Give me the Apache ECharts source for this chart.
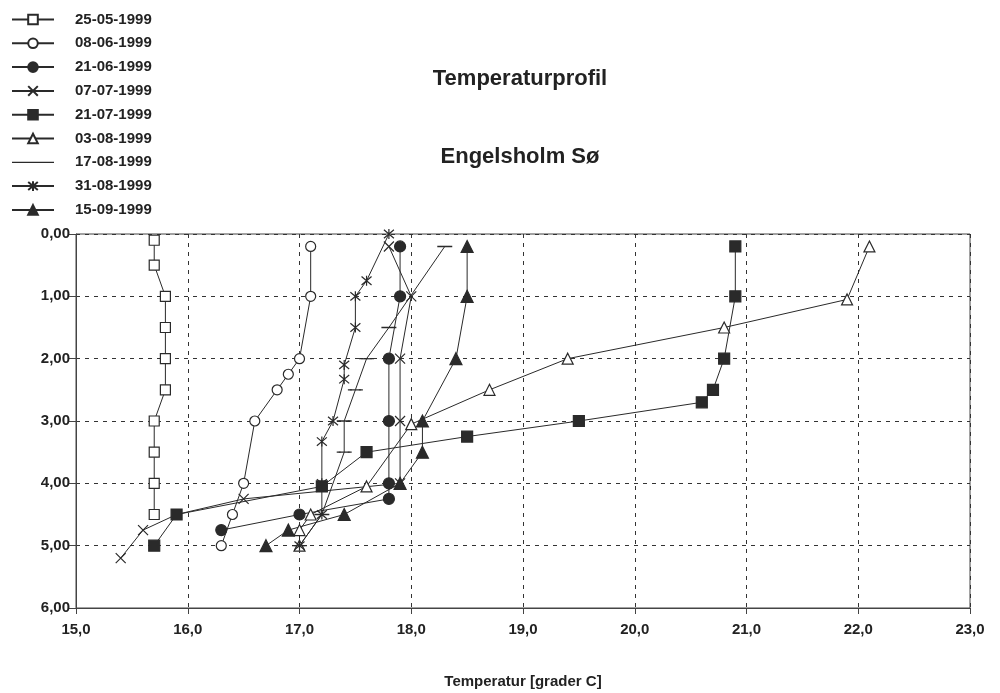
<!DOCTYPE html>
<html><head><meta charset="utf-8">
<script src="https://cdn.jsdelivr.net/npm/echarts@6/dist/echarts.min.js"></script>
<style>html,body{margin:0;padding:0;background:#fff}#c{width:1000px;height:693px}</style>
</head><body><div id="c"></div>
<script>
// [temperature °C, depth m]
const s250599 = [[15.7,0.1],[15.7,0.5],[15.8,1.0],[15.8,1.5],[15.8,2.0],[15.8,2.5],[15.7,3.0],[15.7,3.5],[15.7,4.0],[15.7,4.5]];
const s080699 = [[17.1,0.2],[17.1,1.0],[17.0,2.0],[16.9,2.25],[16.8,2.5],[16.6,3.0],[16.5,4.0],[16.4,4.5],[16.3,5.0]];
const s210699 = [[17.9,0.2],[17.9,1.0],[17.8,2.0],[17.8,3.0],[17.8,4.0],[17.8,4.25],[17.0,4.5],[16.3,4.75]];
const s070799 = [[17.8,0.2],[18.0,1.0],[17.9,2.0],[17.9,3.0],[17.9,4.0],[16.5,4.25],[15.9,4.5],[15.6,4.75],[15.4,5.2]];
const s210799 = [[20.9,0.2],[20.9,1.0],[20.8,2.0],[20.7,2.5],[20.6,2.7],[19.5,3.0],[18.5,3.25],[17.6,3.5],[17.2,4.05],[15.9,4.5],[15.7,5.0]];
const s030899 = [[22.1,0.2],[21.9,1.05],[20.8,1.5],[19.4,2.0],[18.7,2.5],[18.0,3.05],[17.6,4.05],[17.1,4.5],[17.0,4.75],[17.0,5.0]];
const s170899 = [[18.3,0.2],[17.8,1.5],[17.6,2.0],[17.5,2.5],[17.4,3.0],[17.4,3.5],[17.2,4.5],[17.0,5.0]];
const s310899 = [[17.8,0.0],[17.6,0.75],[17.5,1.0],[17.5,1.5],[17.4,2.1],[17.4,2.33],[17.3,3.0],[17.2,3.33],[17.2,4.0],[17.2,4.5],[17.0,5.0]];
const s150999 = [[18.5,0.2],[18.5,1.0],[18.4,2.0],[18.1,3.0],[18.1,3.5],[17.9,4.0],[17.4,4.5],[16.9,4.75],[16.7,5.0]];

const seriesNames = ['25-05-1999','08-06-1999','21-06-1999','07-07-1999','21-07-1999','03-08-1999','17-08-1999','31-08-1999','15-09-1999'];
const seriesData = [s250599,s080699,s210699,s070799,s210799,s030899,s170899,s310899,s150999];

const INK = '#2a2a2a';
const XPATH = 'path://M0,0L10,10M10,0L0,10';
const STAR = 'path://M0,0L10,10M10,0L0,10M5,-1L5,11';
const LINE_ICON = 'path://M0,5.5L42,5.5L42,6.6L0,6.6Z M0,0L0.01,0L0.01,0.01Z M41.99,11.99L42,11.99L42,12Z';
const styles = [
  {symbol:'rect', size:10, fill:'#fff'},
  {symbol:'circle', size:10, fill:'#fff'},
  {symbol:'circle', size:11, fill:INK},
  {symbol:XPATH, size:10, fill:'none'},
  {symbol:'rect', size:11, fill:INK},
  {symbol:'triangle', size:11, fill:'#fff'},
  {symbol:'rect', size:[11,1], fill:INK},
  {symbol:STAR, size:10, fill:'none'},
  {symbol:'triangle', size:12, fill:INK}
];

const FONT = 'Liberation Sans, Arial, sans-serif';
const legendData = seriesNames.map((n,i)=> i===6
  ? {name:n, icon:LINE_ICON, itemStyle:{color:INK, borderWidth:0}}
  : {name:n});

const chart = echarts.init(document.getElementById('c'), null, {renderer:'canvas'});
chart.setOption({
  backgroundColor:'#fff',
  animation:false,
  title:[
    {text:'Temperaturprofil', left:515, top:63, textAlign:'center',
     textStyle:{fontFamily:FONT, fontSize:22, fontWeight:'bold', color:'#222'}},
    {text:'Engelsholm Sø', left:515, top:141, textAlign:'center',
     textStyle:{fontFamily:FONT, fontSize:22, fontWeight:'bold', color:'#222'}}
  ],
  legend:{
    orient:'vertical', left:6, top:7, itemWidth:42, itemHeight:12, itemGap:8.8,
    textStyle:{fontFamily:FONT, fontSize:15, fontWeight:'bold', color:'#222', padding:[0,0,0,16]},
    data: legendData
  },
  grid:{left:76, right:30, top:234, bottom:85, show:true, borderColor:'#444', borderWidth:1,
        outerBoundsMode:'none', containLabel:false},
  xAxis:{
    type:'value', min:15, max:23, interval:1,
    name:'Temperatur [grader C]', nameLocation:'middle', nameGap:66,
    nameTextStyle:{fontFamily:FONT, fontSize:15, fontWeight:'bold', color:'#222'},
    axisLine:{show:true, onZero:false, lineStyle:{color:'#444'}},
    axisTick:{show:true, length:6, lineStyle:{color:'#444'}},
    axisLabel:{fontFamily:FONT, fontSize:15, fontWeight:'bold', color:'#222', margin:14,
      formatter:v=>v.toFixed(1).replace('.',',')},
    splitLine:{show:true, lineStyle:{color:'#333', type:[4,5], width:1}}
  },
  yAxis:{
    type:'value', min:0, max:6, interval:1, inverse:true,
    axisLine:{show:true, onZero:false, lineStyle:{color:'#444'}},
    axisTick:{show:true, length:8, lineStyle:{color:'#444'}},
    axisLabel:{fontFamily:FONT, fontSize:15, fontWeight:'bold', color:'#222', margin:6,
      formatter:v=>v.toFixed(2).replace('.',',')},
    splitLine:{show:true, lineStyle:{color:'#333', type:[4,5], width:1}}
  },
  series: seriesNames.map((n,i)=>({
    name:n, type:'line', data:seriesData[i],
    symbol:styles[i].symbol, symbolSize:styles[i].size, showAllSymbol:true,
    lineStyle:{color:INK, width:1},
    itemStyle:{color:styles[i].fill==='none'?'rgba(0,0,0,0)':styles[i].fill, borderColor:INK, borderWidth:1.2},
    emphasis:{disabled:true}
  }))
});
</script></body></html>
